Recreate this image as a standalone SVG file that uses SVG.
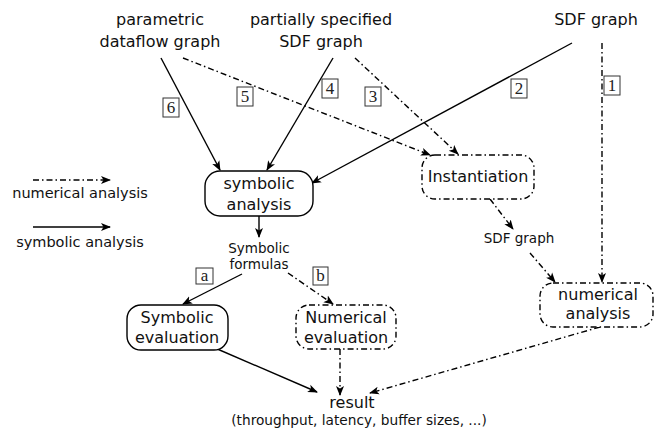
<svg xmlns="http://www.w3.org/2000/svg" width="654" height="430" viewBox="0 0 654 430">
<style>
.t{font-family:"DejaVu Sans",sans-serif;fill:#111;text-anchor:middle}
.big{font-size:16px}
.sm{font-size:13.5px}
.lg{font-size:14.5px}
.num{font-family:"Liberation Serif",serif;font-size:17px;fill:#222;text-anchor:middle}
.nb{fill:#fff;stroke:#333;stroke-width:1}
.s{fill:none;stroke:#000;stroke-width:1.4;marker-end:url(#ah)}
.d{fill:none;stroke:#000;stroke-width:1.4;stroke-dasharray:6,3,1.5,3;marker-end:url(#ah)}
.box{fill:#fff;stroke:#000;stroke-width:1.4}
.dbox{fill:#fff;stroke:#000;stroke-width:1.4;stroke-dasharray:6,3,1.5,3}
</style>
<defs>
<marker id="ah" viewBox="0 0 10 10" refX="9" refY="5" markerWidth="10" markerHeight="10" markerUnits="userSpaceOnUse" orient="auto">
<path d="M0,1 L10,5 L0,9 L2.5,5 Z" fill="#000"/>
</marker>
</defs>
<g id="connectors">
<line class="s" x1="161" y1="58" x2="220" y2="170"/>
<line class="s" x1="333" y1="58" x2="267" y2="170"/>
<line class="s" x1="572" y1="43" x2="312" y2="183"/>
<line class="d" x1="183" y1="58" x2="430" y2="155"/>
<line class="d" x1="355" y1="58" x2="458" y2="154"/>
<line class="d" x1="602" y1="43" x2="602" y2="282"/>
<line class="s" x1="259" y1="216" x2="259" y2="237"/>
<line class="d" x1="490" y1="199" x2="513" y2="229"/>
<line class="d" x1="530" y1="253" x2="555" y2="282"/>
<line class="s" x1="242" y1="274" x2="183" y2="304"/>
<line class="d" x1="288" y1="273" x2="333" y2="304"/>
<line class="s" x1="215" y1="348" x2="317" y2="392"/>
<line class="d" x1="340" y1="349" x2="340" y2="395"/>
<line class="d" x1="600" y1="327" x2="370" y2="393"/>
<line class="d" x1="33" y1="180" x2="110" y2="180"/>
<line class="s" x1="33" y1="227" x2="110" y2="227"/>
</g>
<g id="labels-numbers">
<rect class="nb" x="163" y="98" width="16" height="19"/><text class="num" x="171" y="113">6</text>
<rect class="nb" x="237" y="87" width="16" height="19"/><text class="num" x="245" y="102">5</text>
<rect class="nb" x="322" y="79" width="16" height="19"/><text class="num" x="330" y="94">4</text>
<rect class="nb" x="365" y="87" width="16" height="19"/><text class="num" x="373" y="102">3</text>
<rect class="nb" x="511" y="79" width="16" height="19"/><text class="num" x="519" y="94">2</text>
<rect class="nb" x="604" y="76" width="16" height="19"/><text class="num" x="612" y="91">1</text>
<rect class="nb" x="196" y="268" width="17" height="16"/><text class="num" x="204.5" y="281">a</text>
<rect class="nb" x="313" y="267" width="15" height="18"/><text class="num" x="320.5" y="281">b</text>
</g>
<g id="src-parametric">
<text class="t big" x="160" y="25">parametric</text>
<text class="t big" x="160" y="47">dataflow graph</text>
</g>
<g id="src-partial">
<text class="t big" x="321" y="25">partially specified</text>
<text class="t big" x="321" y="47">SDF graph</text>
</g>
<g id="src-sdf">
<text class="t big" x="596" y="25">SDF graph</text>
</g>
<g id="symbolic-analysis">
<rect class="box" x="205" y="171" width="108" height="45" rx="15"/>
<text class="t big" x="259" y="189">symbolic</text>
<text class="t big" x="259" y="210">analysis</text>
</g>
<g id="instantiation">
<rect class="dbox" x="422" y="155" width="112" height="44" rx="13"/>
<text class="t big" x="478" y="182">Instantiation</text>
</g>
<g id="symbolic-formulas">
<text class="t sm" x="259" y="253">Symbolic</text>
<text class="t sm" x="259" y="269">formulas</text>
</g>
<g id="sdf-graph-mid">
<text class="t sm" x="519" y="243">SDF graph</text>
</g>
<g id="numerical-analysis">
<rect class="dbox" x="540" y="283" width="113" height="44" rx="13"/>
<text class="t big" x="598" y="300">numerical</text>
<text class="t big" x="598" y="319">analysis</text>
</g>
<g id="symbolic-evaluation">
<rect class="box" x="127" y="305" width="101" height="45" rx="14"/>
<text class="t big" x="177" y="323">Symbolic</text>
<text class="t big" x="177" y="343">evaluation</text>
</g>
<g id="numerical-evaluation">
<rect class="dbox" x="296" y="305" width="100" height="44" rx="13"/>
<text class="t big" x="346" y="323">Numerical</text>
<text class="t big" x="346" y="343">evaluation</text>
</g>
<g id="result">
<text class="t big" x="352" y="408">result</text>
<text class="t" style="font-size:13.7px" x="359" y="425">(throughput, latency, buffer sizes, ...)</text>
</g>
<g id="legend">
<text class="t lg" x="80" y="198">numerical analysis</text>
<text class="t lg" x="80" y="247">symbolic analysis</text>
</g>
</svg>
